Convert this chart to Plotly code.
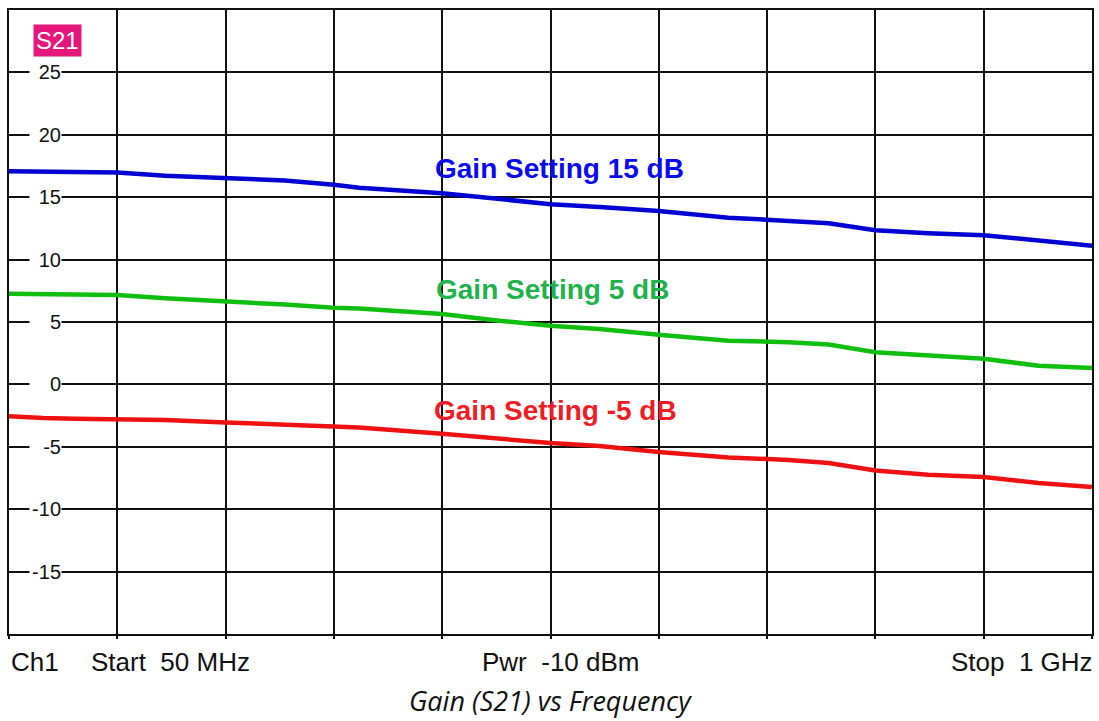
import plotly.graph_objects as go

# Frequency (MHz) and gain (dB)
freq = [50, 80, 108, 145, 187, 240, 292, 335, 357, 430, 453, 480, 525, 568, 620, 681, 734, 769, 810, 856, 905, 953, 1000]
gain_15 = [17.08, 17.07, 17.04, 16.98, 16.72, 16.55, 16.34, 16.0, 15.75, 15.32, 15.1, 14.9, 14.44, 14.22, 13.9, 13.36, 13.12, 12.92, 12.36, 12.12, 11.96, 11.5, 11.1]
gain_5 = [7.26, 7.24, 7.2, 7.16, 6.9, 6.68, 6.4, 6.15, 6.09, 5.64, 5.37, 5.1, 4.7, 4.44, 3.98, 3.5, 3.38, 3.2, 2.57, 2.3, 2.05, 1.5, 1.32]
gain_m5 = [-2.55, -2.7, -2.75, -2.76, -2.86, -3.05, -3.22, -3.34, -3.45, -3.96, -4.15, -4.36, -4.7, -4.94, -5.42, -5.85, -6.06, -6.3, -6.9, -7.24, -7.42, -7.9, -8.22]

series_names = ["Gain Setting 15 dB", "Gain Setting 5 dB", "Gain Setting -5 dB"]
trace_colors = ["#0000D2", "#10BE10", "#EE1111"]
label_colors = ["#0A0AEE", "#22B24C", "#EE1C24"]
label_freq = [533, 527, 529]
label_gain = [17.3, 7.6, -2.1]

y_ticks = [25, 20, 15, 10, 5, 0, -5, -10, -15]
x_start, x_stop = 50, 1000

fig = go.Figure()
for vals, name, col in zip([gain_15, gain_5, gain_m5], series_names, trace_colors):
    fig.add_trace(go.Scatter(x=freq, y=vals, mode="lines", name=name,
                             line=dict(color=col, width=4.5), showlegend=False,
                             hoverinfo="skip"))

annotations = []
# y tick labels drawn inside the plot with white box
for v in y_ticks:
    annotations.append(dict(x=96.4, y=v, xref="x", yref="y",
                            text=str(v), showarrow=False, xanchor="right", yanchor="middle",
                            align="right", width=31, bgcolor="white", borderpad=0,
                            font=dict(family="Liberation Sans, Arial", size=20, color="#111111")))

# S21 badge
annotations.append(dict(x=0, y=1, xref="paper", yref="paper", xshift=24, yshift=-14,
                        text="S21", showarrow=False, xanchor="left", yanchor="top",
                        bgcolor="#E5177B", borderpad=2,
                        font=dict(family="Liberation Sans, Arial", size=24, color="white")))

# curve labels
for name, col, fx, yv in zip(series_names, label_colors, label_freq, label_gain):
    annotations.append(dict(x=fx, y=yv, xref="x", yref="y", text="<b>%s</b>" % name,
                            showarrow=False, xanchor="center", yanchor="middle",
                            font=dict(family="Liberation Sans, Arial", size=28, color=col)))

# footer texts
foot_font = dict(family="Liberation Sans, Arial", size=26, color="#111111")
annotations += [
    dict(x=0, y=0, xref="paper", yref="paper", xshift=0, yshift=-28, text="Ch1",
         showarrow=False, xanchor="left", yanchor="middle", font=foot_font),
    dict(x=0, y=0, xref="paper", yref="paper", xshift=80, yshift=-28, text="Start  50 MHz",
         showarrow=False, xanchor="left", yanchor="middle", font=foot_font),
    dict(x=0.5, y=0, xref="paper", yref="paper", xshift=10, yshift=-28, text="Pwr  -10 dBm",
         showarrow=False, xanchor="center", yanchor="middle", font=foot_font),
    dict(x=1, y=0, xref="paper", yref="paper", xshift=3, yshift=-28, text="Stop  1 GHz",
         showarrow=False, xanchor="right", yanchor="middle", font=foot_font),
    dict(x=0.5, y=0, xref="paper", yref="paper", xshift=0, yshift=-66,
         text="<i>Gain (S21) vs Frequency</i>", showarrow=False, xanchor="center",
         yanchor="middle", font=dict(family="Open Sans", size=27, color="#111111")),
]

fig.update_layout(
    width=1099, height=721,
    margin=dict(l=9, r=5, t=10, b=87),
    paper_bgcolor="white", plot_bgcolor="white",
    annotations=annotations,
    xaxis=dict(range=[x_start, x_stop], tick0=x_start, dtick=95, showticklabels=False,
               showgrid=True, gridcolor="#111111", gridwidth=1.6, zeroline=False,
               showline=True, linecolor="#111111", linewidth=2, mirror=True,
               ticks="outside", ticklen=3, tickcolor="#111111", tickwidth=1.6),
    yaxis=dict(range=[-20, 30], tick0=-20, dtick=5, showticklabels=False,
               showgrid=True, gridcolor="#111111", gridwidth=1.6, zeroline=False,
               showline=True, linecolor="#111111", linewidth=2, mirror=True),
)

fig.write_html("out.html")
